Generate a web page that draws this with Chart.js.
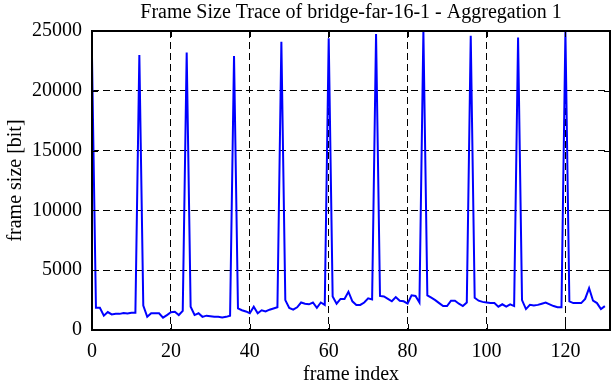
<!DOCTYPE html>
<html>
<head>
<meta charset="utf-8">
<script src="https://cdn.jsdelivr.net/npm/chart.js@4/dist/chart.umd.min.js"></script>
<style>
html,body{margin:0;padding:0;background:#fff;}
#c{display:block;}
</style>
</head>
<body>
<canvas id="c" width="612" height="382"></canvas>
<script>
const chartTitle = "Frame Size Trace of bridge-far-16-1 - Aggregation 1";
const xAxisTitle = "frame index";
const yAxisTitle = "frame size [bit]";

const frameIndex = [
  0,1,2,3,4,5,6,7,8,9,10,11,12,13,14,15,16,17,18,19,
  20,21,22,23,24,25,26,27,28,29,30,31,32,33,34,35,36,37,38,39,
  40,41,42,43,44,45,46,47,48,49,50,51,52,53,54,55,56,57,58,59,
  60,61,62,63,64,65,66,67,68,69,70,71,72,73,74,75,76,77,78,79,
  80,81,82,83,84,85,86,87,88,89,90,91,92,93,94,95,96,97,98,99,
  100,101,102,103,104,105,106,107,108,109,110,111,112,113,114,115,116,117,118,119,
  120,121,122,123,124,125,126,127,128,129,130
];

const frameSize = [
  22800,1850,1850,1200,1500,1300,1350,1350,1420,1380,1450,1450,23000,2050,1100,1400,1400,1400,1030,1250,
  1480,1520,1250,1600,23200,1950,1250,1400,1100,1200,1150,1100,1100,1050,1100,1200,22900,1800,1650,1550,
  1400,1950,1400,1650,1550,1700,1800,1900,24100,2500,1850,1700,1900,2300,2200,2150,2300,1850,2300,2100,
  24400,2800,2200,2600,2600,3200,2400,2100,2100,2300,2650,2550,24750,2850,2800,2600,2400,2750,2450,2400,
  2200,2900,2850,2300,25000,2900,2700,2500,2250,2000,2000,2450,2450,2200,2000,2300,24600,2700,2450,2350,
  2300,2250,2250,1950,2150,1950,2150,2000,24450,2500,1750,2100,2050,2100,2200,2300,2150,2000,1900,1900,
  24950,2400,2250,2250,2250,2600,3500,2450,2250,1750,2000
];

const xTicksMin = 0, xTicksMax = 131.3, xStep = 20;
const yTicksMin = 0, yTicksMax = 25000, yStep = 5000;

const FONT = "'Liberation Serif', 'DejaVu Serif', serif";

const framePlugin = {
  id: 'frameBox',
  afterDatasetsDraw(chart) {
    const {ctx, chartArea: a, scales} = chart;
    ctx.save();
    ctx.strokeStyle = '#000';
    ctx.setLineDash([]);
    ctx.lineWidth = 1;
    const tl = 6;
    scales.x.ticks.forEach(t => {
      const px = Math.round(scales.x.getPixelForValue(t.value)) + 0.5;
      ctx.beginPath();
      ctx.moveTo(px, a.bottom); ctx.lineTo(px, a.bottom - tl);
      ctx.moveTo(px, a.top); ctx.lineTo(px, a.top + tl);
      ctx.stroke();
    });
    scales.y.ticks.forEach(t => {
      const py = Math.round(scales.y.getPixelForValue(t.value)) + 0.5;
      ctx.beginPath();
      ctx.moveTo(a.left, py); ctx.lineTo(a.left + tl, py);
      ctx.moveTo(a.right, py); ctx.lineTo(a.right - tl, py);
      ctx.stroke();
    });
    ctx.lineWidth = 2;
    ctx.strokeRect(a.left, a.top, a.right - a.left, a.bottom - a.top);
    ctx.restore();
  }
};

new Chart(document.getElementById('c'), {
  type: 'line',
  data: {
    datasets: [{
      data: frameSize.map((v, i) => ({x: frameIndex[i], y: v})),
      borderColor: '#0000ff',
      borderWidth: 2,
      pointRadius: 0,
      tension: 0,
      fill: false
    }]
  },
  options: {
    responsive: false,
    animation: false,
    devicePixelRatio: 1,
    layout: {padding: {left: 0, right: 2, top: 0, bottom: 0}},
    plugins: {
      legend: {display: false},
      tooltip: {enabled: false},
      title: {
        display: true,
        fullSize: false,
        text: chartTitle,
        color: '#000',
        font: {family: FONT, size: 20, weight: 'normal'},
        padding: {top: 1, bottom: 6}
      }
    },
    scales: {
      x: {
        type: 'linear',
        min: xTicksMin,
        max: xTicksMax,
        afterFit(s) { s.height = 52; },
        ticks: {
          stepSize: xStep,
          includeBounds: false,
          color: '#000',
          font: {family: FONT, size: 20},
          padding: 10,
          maxRotation: 0,
          callback: v => String(v)
        },
        grid: {color: '#000', lineWidth: 1, drawTicks: false},
        border: {display: false, dash: [7, 4]},
        title: {
          display: true,
          text: xAxisTitle,
          color: '#000',
          font: {family: FONT, size: 20, lineHeight: 0.7},
          padding: {top: 0, bottom: 0}
        }
      },
      y: {
        type: 'linear',
        min: yTicksMin,
        max: yTicksMax,
        afterFit(s) { s.width = 92; },
        ticks: {
          stepSize: yStep,
          color: '#000',
          font: {family: FONT, size: 20},
          padding: 10,
          callback: v => String(v)
        },
        grid: {color: '#000', lineWidth: 1, drawTicks: false},
        border: {display: false, dash: [7, 4]},
        title: {
          display: true,
          text: yAxisTitle,
          color: '#000',
          font: {family: FONT, size: 20},
          padding: {top: 4, bottom: 0}
        }
      }
    }
  },
  plugins: [framePlugin]
});
</script>
</body>
</html>
